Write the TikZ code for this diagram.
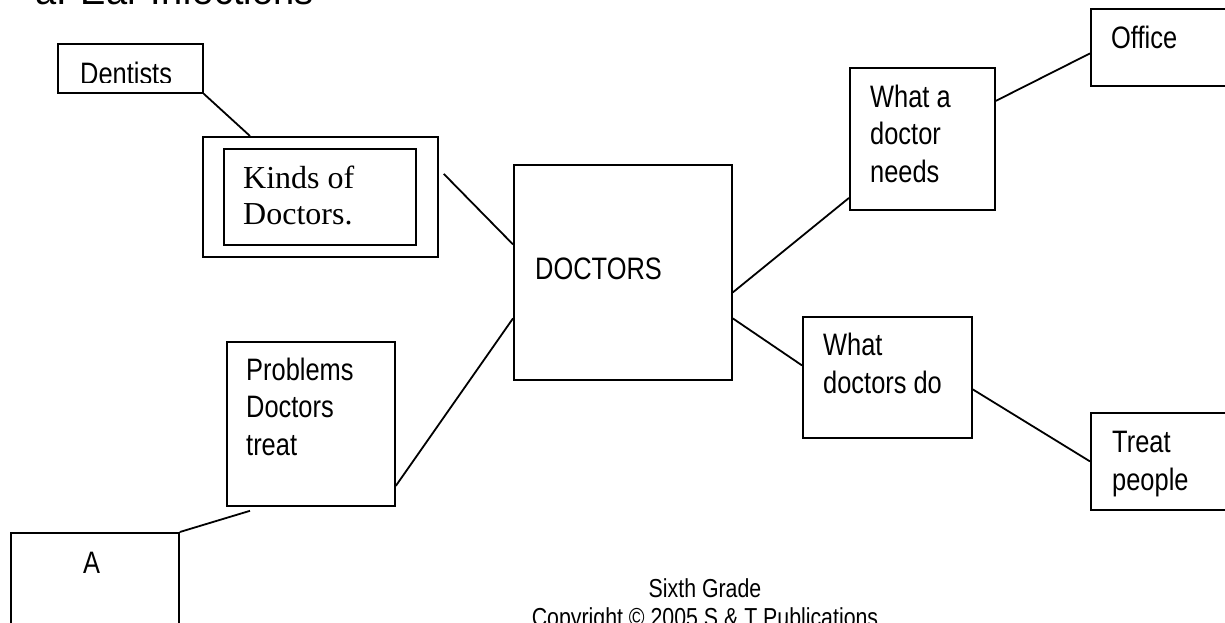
\documentclass[tikz,border=0pt]{standalone}
\usepackage{fontspec}
\setmainfont{Liberation Sans}[FakeStretch=0.82]
\newfontfamily\serifface{Liberation Serif}
\newfontfamily\titleface{Liberation Sans}
\usetikzlibrary{positioning}

\tikzset{
  box/.style={draw, line width=1.8pt, inner sep=0pt, anchor=north west},
  lbl/.style={font=\fontsize{31}{37.5}\selectfont, align=left, anchor=base west, inner sep=0pt},
  link/.style={line width=1.8pt},
}

\begin{document}
\begin{tikzpicture}[x=1pt, y=-1pt]
    \useasboundingbox (0,0) rectangle (1225,622);
    \clip (0,0) rectangle (1225,622);
    \node[font=\titleface\fontsize{38}{44}\selectfont, anchor=base west, inner sep=0pt] (title) at (35,4) {a. Ear Infections};

    \node[box, minimum width=145pt, minimum height=49pt] (dent) at (57,43) {};
    \node[box, minimum width=235pt, minimum height=120pt] (kout) at (202,136) {};
    \node[box, minimum width=192pt, minimum height=96pt] (kin) at (223,148) {};
    \node[box, minimum width=218pt, minimum height=215pt] (docs) at (513,164) {};
    \node[box, minimum width=145pt, minimum height=142pt] (needs) at (849,67) {};
    \node[box, minimum width=160pt, minimum height=77pt] (office) at (1090,8) {};
    \node[box, minimum width=169pt, minimum height=121pt] (dodo) at (802,316) {};
    \node[box, minimum width=160pt, minimum height=97pt] (treat) at (1090,412) {};
    \node[box, minimum width=168pt, minimum height=164pt] (prob) at (226,341) {};
    \node[box, minimum width=168pt, minimum height=130pt] (abox) at (10,532) {};

    \begin{scope}
      \clip (57,43) rectangle (202,82);
      \node[lbl] (denttxt) at (80,84) {Dentists};
    \end{scope}
    \node[lbl, font=\serifface\fontsize{32}{36}\selectfont] (kindstxt) at (243,224) {Kinds of\\Doctors.};
    \node[lbl] (docstxt) at (535,279) {DOCTORS};
    \node[lbl] (needstxt) at (870,182) {What a\\doctor\\needs};
    \node[lbl] (officetxt) at (1111,48) {Office};
    \node[lbl] (dodotxt) at (823,393) {What\\doctors do};
    \node[lbl] (treattxt) at (1112,490) {Treat\\people};
    \node[lbl] (probtxt) at (246,455) {Problems\\Doctors\\treat};
    \node[lbl] (atxt) at (83,573) {A};

    \draw[link] (dent.south east) -- ([xshift=48pt]kout.north west);
    \draw[link] ([shift={(5pt,23pt)}]kout.east) -- ([yshift=28pt]docs.west);
    \draw[link] ([yshift=-62pt]prob.east) -- ([yshift=-46pt]docs.west);
    \draw[link] ([shift={(24pt,-4pt)}]prob.south west) -- (abox.north east);
    \draw[link] ([yshift=-20pt]docs.east) -- ([yshift=-59pt]needs.west);
    \draw[link] ([yshift=38pt]needs.east) -- ([yshift=-6pt]office.west);
    \draw[link] ([yshift=-46pt]docs.east) -- ([yshift=12pt]dodo.west);
    \draw[link] ([yshift=-12pt]dodo.east) -- (treat.west);

    \node[font=\fontsize{26}{29}\selectfont, align=center, anchor=base, inner sep=0pt] (foot) at (705,626) {Sixth Grade\\Copyright \textcopyright{} 2005 S \& T Publications};
  \end{tikzpicture}
\end{document}
